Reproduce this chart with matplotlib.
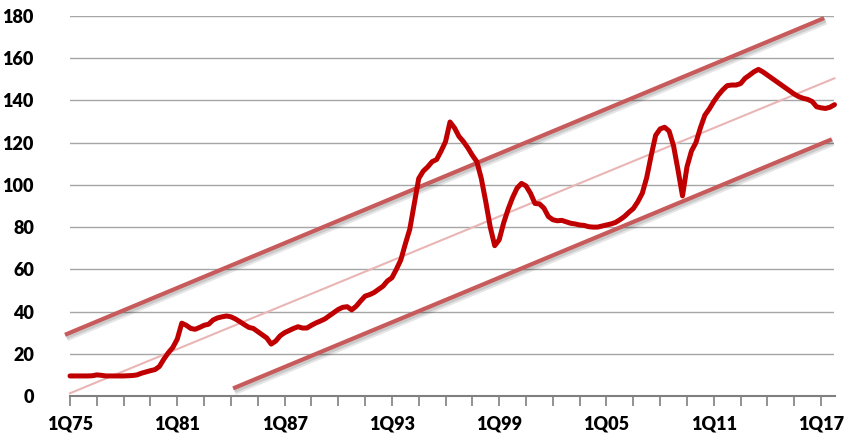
import numpy as np
import matplotlib
matplotlib.use("Agg")
import matplotlib.pyplot as plt
import matplotlib.patheffects as pe

# Quarterly index values, 1Q75 .. 4Q17 (four values per year)
index_values = [
    9.5, 9.5, 9.5, 9.5,        # 1975
    9.5, 9.6, 10.0, 9.8,       # 1976
    9.5, 9.5, 9.5, 9.5,        # 1977
    9.5, 9.6, 9.7, 10.0,       # 1978
    10.8, 11.4, 12.0, 12.5,    # 1979
    14.0, 17.5, 20.5, 23.0,    # 1980
    27.0, 34.5, 33.5, 32.0,    # 1981
    31.6, 32.5, 33.5, 34.0,    # 1982
    36.0, 37.0, 37.5, 37.9,    # 1983
    37.5, 36.5, 35.2, 33.8,    # 1984
    32.5, 32.0, 30.5, 29.0,    # 1985
    27.5, 24.6, 26.0, 28.5,    # 1986
    30.0, 31.0, 32.0, 32.8,    # 1987
    32.2, 32.2, 33.5, 34.6,    # 1988
    35.5, 36.5, 38.0, 39.5,    # 1989
    41.0, 42.0, 42.3, 40.8,    # 1990
    42.5, 45.0, 47.3, 48.0,    # 1991
    49.0, 50.5, 52.0, 54.5,    # 1992
    56.0, 60.0, 64.5, 72.0,    # 1993
    79.0, 91.0, 103.0, 106.5,  # 1994
    108.5, 111.0, 112.0, 116.0,  # 1995
    120.5, 129.8, 127.0, 123.0,  # 1996
    120.5, 117.5, 114.0, 111.0,  # 1997
    103.0, 92.0, 80.0, 71.2,   # 1998
    74.0, 82.0, 88.5, 94.0,    # 1999
    98.5, 100.7, 99.5, 96.0,   # 2000
    91.2, 91.0, 89.0, 85.0,    # 2001
    83.5, 83.0, 83.2, 82.5,    # 2002
    81.8, 81.5, 81.0, 80.8,    # 2003
    80.2, 80.0, 80.0, 80.5,    # 2004
    81.0, 81.5, 82.2, 83.5,    # 2005
    85.0, 87.0, 88.8, 92.0,    # 2006
    96.0, 103.5, 114.0, 123.5,  # 2007
    126.5, 127.3, 125.5, 118.5,  # 2008
    107.0, 94.8, 108.5, 116.0,  # 2009
    120.0, 127.0, 133.0, 136.0,  # 2010
    139.5, 142.5, 145.0, 147.0,  # 2011
    147.3, 147.3, 148.0, 150.5,  # 2012
    152.0, 153.6, 154.7, 153.5,  # 2013
    152.0, 150.5, 149.0, 147.5,  # 2014
    146.0, 144.5, 143.0, 141.8,  # 2015
    141.0, 140.5, 139.5, 137.0,  # 2016
    136.5, 136.2, 136.8, 138.0,  # 2017
]
first_year = 1975

# Long-run trend and its channel (start/end in fractional years, values)
trend_years = [1975.0, 2017.75]
trend_values = [1.3, 150.5]
upper_years = [1974.72, 2017.17]
upper_values = [29.0, 179.0]
lower_years = [1984.12, 2017.6]
lower_values = [3.6, 121.6]

tick_label_years = [1975, 1981, 1987, 1993, 1999, 2005, 2011, 2017]
tick_labels = ["1Q75", "1Q81", "1Q87", "1Q93", "1Q99", "1Q05", "1Q11", "1Q17"]
y_ticks = [0, 20, 40, 60, 80, 100, 120, 140, 160, 180]

years = first_year + np.arange(len(index_values)) / 4.0

plt.rcParams["font.family"] = ["Lato", "DejaVu Sans"]
fig = plt.figure(figsize=(8.48, 4.34), dpi=100)
ax = fig.add_axes([70 / 848, 38 / 434, (834.5 - 70) / 848, 380 / 434])

for y in y_ticks[1:]:
    ax.axhline(y, color="#a6a6a6", lw=1.0, zorder=1)

# soft drop shadow under the channel lines
shadow = [pe.SimpleLineShadow(offset=(1.0, -2.0), shadow_color="#000000", alpha=0.10, linewidth=5.5),
          pe.SimpleLineShadow(offset=(1.0, -1.5), shadow_color="#000000", alpha=0.12, linewidth=3.5),
          pe.Normal()]
ax.plot(upper_years, upper_values, color="#c75a5a", lw=3.0, solid_capstyle="butt",
        clip_on=False, zorder=3, path_effects=shadow)
ax.plot(lower_years, lower_values, color="#c75a5a", lw=3.0, solid_capstyle="butt",
        clip_on=False, zorder=3, path_effects=shadow)
ax.plot(trend_years, trend_values, color="#e9b5b5", lw=1.5, clip_on=False, zorder=2)
ax.plot(years, index_values, color="#c00000", lw=3.6, solid_joinstyle="round",
        solid_capstyle="round", clip_on=False, zorder=4)

ax.set_xlim(years[0], years[-1])
ax.set_ylim(0, 180)
ax.set_yticks(y_ticks)
ax.set_yticklabels([str(v) for v in y_ticks], fontsize=13, fontweight="heavy")
ax.set_xticks(tick_label_years)
ax.set_xticklabels(tick_labels, fontsize=13, fontweight="heavy")
ax.set_xticks(np.arange(first_year, years[-1] + 0.01, 1.5), minor=True)

ax.tick_params(axis="y", length=0, pad=26)
ax.tick_params(axis="x", which="both", direction="out", length=7, width=1.2,
               color="#7f7f7f", pad=7)

for side in ("top", "right", "left"):
    ax.spines[side].set_visible(False)
ax.spines["bottom"].set_color("#7f7f7f")
ax.spines["bottom"].set_linewidth(1.5)
ax.spines["bottom"].set_zorder(5)

fig.savefig("out.png", dpi=100)
